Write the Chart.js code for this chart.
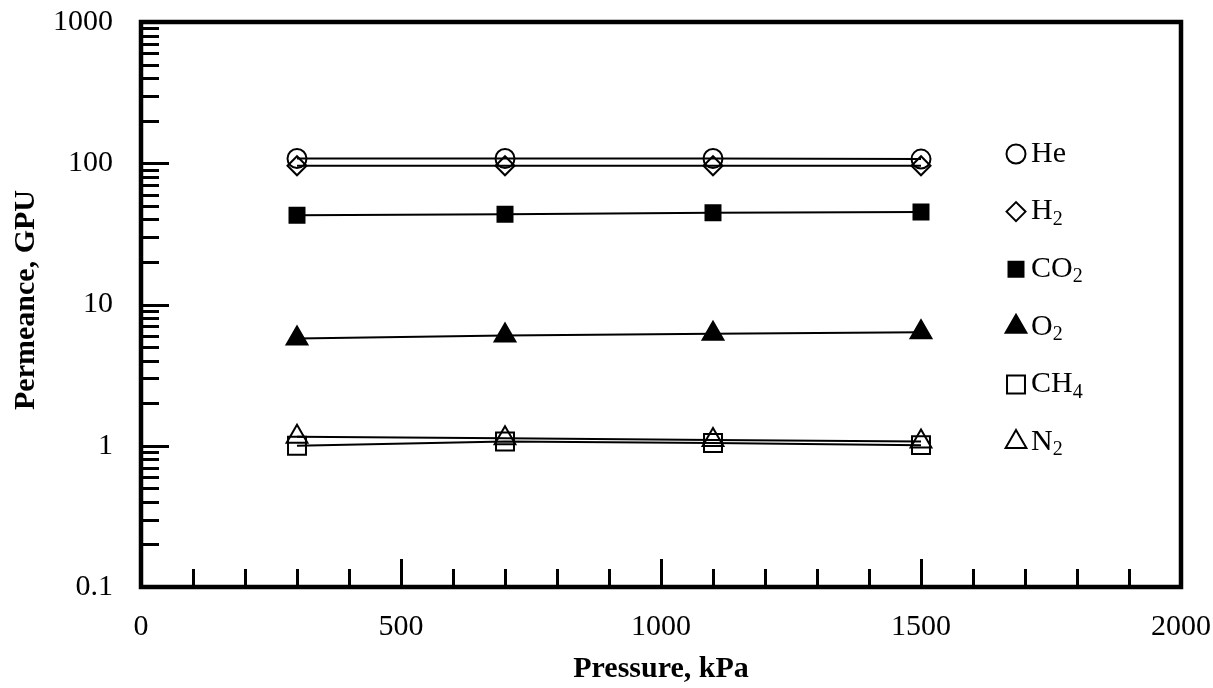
<!DOCTYPE html>
<html>
<head>
<meta charset="utf-8">
<script src="https://cdn.jsdelivr.net/npm/chart.js@4/dist/chart.umd.min.js"></script>
<style>
  body { margin: 0; background: #fff; }
  #wrap { width: 1213px; height: 688px; }
</style>
</head>
<body>
<div id="wrap"><canvas id="perm-chart" width="1213" height="688"></canvas></div>
<script>
// data
const pressure = [300, 700, 1100, 1500];
const gasLabels = ['He', 'H₂', 'CO₂', 'O₂', 'CH₄', 'N₂'];
const heValues = [108, 108, 108, 107];
const h2Values = [96, 96, 96, 96];
const co2Values = [42.8, 43.5, 44.7, 45.2];
const o2Values = [5.74, 6.03, 6.22, 6.36];
const ch4Values = [1.0, 1.07, 1.045, 1.01];
const n2Values = [1.16, 1.13, 1.10, 1.07];
const xTickLabels = [0, 500, 1000, 1500, 2000];
const yTickLabels = [0.1, 1, 10, 100, 1000];

const FONT = '"Liberation Serif", "Times New Roman", serif';

function toPoints(vals) {
    return vals.map((v, i) => ({ x: pressure[i], y: v }));
}

function makeSet(label, vals, style, radius, filled) {
    return {
        label: label,
        data: toPoints(vals),
        borderColor: '#000',
        borderWidth: 2,
        backgroundColor: filled ? '#000' : 'rgba(0,0,0,0)',
        pointStyle: style,
        pointRadius: radius,
        pointBorderWidth: 2,
        pointBorderColor: '#000',
        pointBackgroundColor: filled ? '#000' : 'rgba(0,0,0,0)',
        tension: 0,
        fill: false
    };
}

const datasets = [
    makeSet(gasLabels[0], heValues, 'circle', 9.5, false),
    makeSet(gasLabels[1], h2Values, 'rectRot', 9.5, false),
    makeSet(gasLabels[2], co2Values, 'rect', 10.6, true),
    makeSet(gasLabels[3], o2Values, 'triangle', 12, true),
    makeSet(gasLabels[4], ch4Values, 'rect', 12.7, false),
    makeSet(gasLabels[5], n2Values, 'triangle', 12, false)
];

// inward tick marks, frame, axis titles and the legend
const frame = {
    id: 'frame',
    beforeDatasetsDraw(chart) {
        const ctx = chart.ctx;
        const a = chart.chartArea;
        const xs = chart.scales.x, ys = chart.scales.y;
        ctx.save();
        ctx.strokeStyle = '#000';
        ctx.lineWidth = 3;
        ctx.beginPath();
        for (let v = 100; v < 2000; v += 100) {
            const px = Math.round(xs.getPixelForValue(v)) + 0.5;
            const len = v % 500 === 0 ? 28 : 18;
            ctx.moveTo(px, a.bottom);
            ctx.lineTo(px, a.bottom - len);
        }
        for (let e = -1; e <= 2; e++) {
            for (let m = 1; m <= 9; m++) {
                const v = m * Math.pow(10, e);
                if (v <= 0.1) continue;
                const py = Math.round(ys.getPixelForValue(v)) + 0.5;
                const len = m === 1 ? 28 : 18;
                ctx.moveTo(a.left, py);
                ctx.lineTo(a.left + len, py);
            }
        }
        ctx.stroke();
        ctx.restore();
    },
    afterDraw(chart) {
        const ctx = chart.ctx;
        const a = chart.chartArea;
        ctx.save();
        ctx.strokeStyle = '#000';
        ctx.lineWidth = 4.5;
        ctx.strokeRect(a.left, a.top, a.right - a.left, a.bottom - a.top);

        ctx.fillStyle = '#000';
        ctx.font = 'bold 30px ' + FONT;
        ctx.textAlign = 'center';
        ctx.textBaseline = 'alphabetic';
        ctx.fillText('Pressure, kPa', (a.left + a.right) / 2, 677);
        ctx.translate(26, 300);
        ctx.rotate(-Math.PI / 2);
        ctx.textBaseline = 'middle';
        ctx.fillText('Permeance, GPU', 0, 0);
        ctx.restore();

        // legend
        const subs = '₀₁₂₃₄₅₆₇₈₉';
        ctx.save();
        chart.data.datasets.forEach((ds, i) => {
            const y = 154 + i * 57.6;
            ctx.fillStyle = ds.pointBackgroundColor;
            ctx.strokeStyle = '#000';
            ctx.lineWidth = 2;
            Chart.helpers.drawPoint(ctx, {
                pointStyle: ds.pointStyle,
                radius: ds.pointRadius,
                rotation: 0,
                borderWidth: 2
            }, 1016, y);
            let x = 1031;
            ctx.fillStyle = '#000';
            ctx.textAlign = 'left';
            ctx.textBaseline = 'middle';
            for (const ch of ds.label) {
                const k = subs.indexOf(ch);
                if (k >= 0) {
                    ctx.font = '20px ' + FONT;
                    ctx.fillText(String(k), x, y + 8);
                    x += ctx.measureText(String(k)).width;
                } else {
                    ctx.font = '30px ' + FONT;
                    ctx.fillText(ch, x, y);
                    x += ctx.measureText(ch).width;
                }
            }
        });
        ctx.restore();
    }
};

new Chart(document.getElementById('perm-chart').getContext('2d'), {
    type: 'line',
    data: { datasets: datasets },
    options: {
        responsive: false,
        animation: false,
        layout: { padding: { top: 22, right: 32, left: 0, bottom: 0 } },
        plugins: {
            legend: { display: false },
            tooltip: { enabled: false }
        },
        scales: {
            x: {
                type: 'linear',
                min: 0,
                max: 2000,
                afterFit: s => { s.height = 101; s.paddingLeft = 0; s.paddingRight = 0; },
                afterBuildTicks: s => { s.ticks = xTickLabels.map(v => ({ value: v })); },
                grid: { display: false, drawTicks: false },
                border: { display: false },
                ticks: {
                    padding: 22,
                    color: '#000',
                    font: { family: FONT, size: 30 },
                    maxRotation: 0,
                    autoSkip: false,
                    callback: v => String(v)
                }
            },
            y: {
                type: 'logarithmic',
                min: 0.1,
                max: 1000,
                afterFit: s => { s.width = 141; s.paddingTop = 0; s.paddingBottom = 0; },
                afterBuildTicks: s => { s.ticks = yTickLabels.map(v => ({ value: v })); },
                grid: { display: false, drawTicks: false },
                border: { display: false },
                ticks: {
                    padding: 28,
                    color: '#000',
                    font: { family: FONT, size: 30 },
                    autoSkip: false,
                    callback: v => String(v)
                }
            }
        }
    },
    plugins: [frame]
});
</script>
</body>
</html>
